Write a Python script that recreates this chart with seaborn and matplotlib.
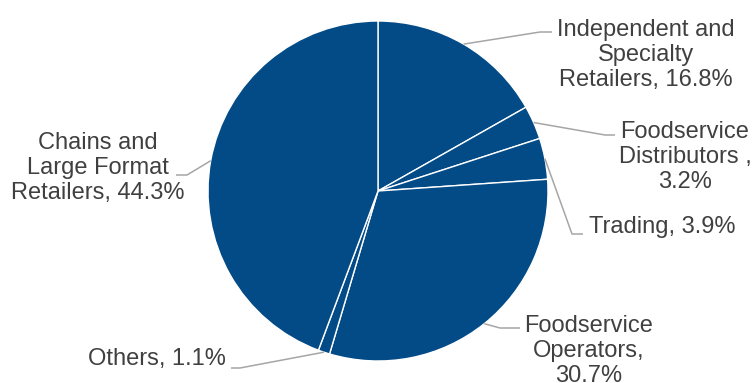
import matplotlib
matplotlib.use("Agg")
import matplotlib.pyplot as plt
import seaborn as sns
import numpy as np

categories = ["Independent and\nSpecialty\nRetailers", "Foodservice\nDistributors ,", "Trading",
              "Foodservice\nOperators,", "Others", "Chains and\nLarge Format\nRetailers"]
shares = [16.8, 3.2, 3.9, 30.7, 1.1, 44.3]

label_texts = []
for c, p in zip(categories, shares):
    if c.endswith(","):
        label_texts.append(f"{c}\n{p:.1f}%")
    else:
        label_texts.append(f"{c}, {p:.1f}%")

sns.set_theme(style="white")
plt.rcParams['font.family'] = ['Liberation Sans', 'DejaVu Sans']

W, H = 752, 383
fig = plt.figure(figsize=(W / 100, H / 100), dpi=100)
ax = fig.add_axes([0, 0, 1, 1])

cx, cy, R = 378, H - 191, 170
blue = "#034B87"
wedges, _ = ax.pie(shares, center=(cx, cy), radius=R, startangle=90, counterclock=False,
                   colors=[blue] * len(shares),
                   wedgeprops=dict(edgecolor="white", linewidth=1.0))
ax.set_xlim(0, W)
ax.set_ylim(0, H)
ax.set_aspect("equal")
ax.axis("off")

# layout: (elbow px, line end px, text pos px, ha)
layout = [
    ((540, 32), (552, 32), (646, 55), "center"),
    ((605, 135), (615, 135), (685, 157), "center"),
    ((572, 234), (583, 234), (589, 227), "left"),
    ((500, 328), (520, 328), (589, 351), "center"),
    ((240, 368), (231, 368), (226, 359), "right"),
    ((187, 175), (176, 175), (98, 168), "center"),
]

for w, txt, (elb, end, tp, ha) in zip(wedges, label_texts, layout):
    ang = np.deg2rad((w.theta1 + w.theta2) / 2)
    sx, sy = cx + R * np.cos(ang), cy + R * np.sin(ang)
    ax.plot([sx, elb[0], end[0]], [sy, H - elb[1], H - end[1]], color="#A6A6A6", lw=1.1,
            solid_capstyle="butt", zorder=3)
    ax.text(tp[0], H - tp[1], txt, ha=ha, va="center", fontsize=17, color="#404040",
            linespacing=1.2, multialignment="center")

fig.savefig("out.png", dpi=100)
